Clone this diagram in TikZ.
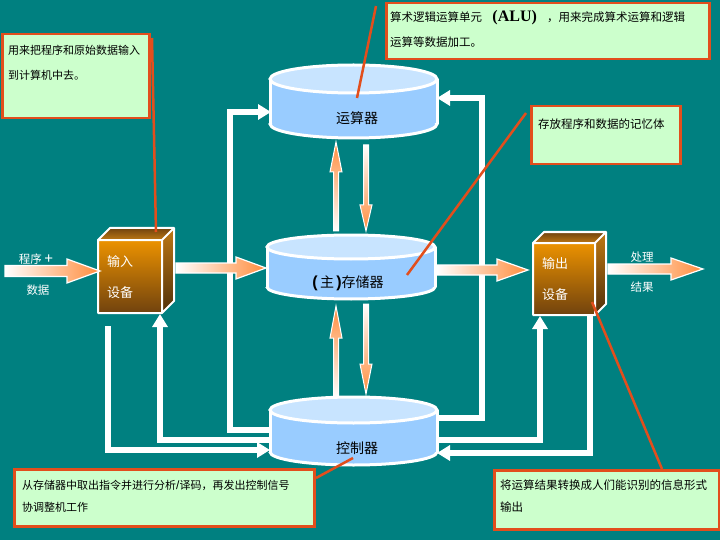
\documentclass[tikz,border=0pt]{standalone}
\usepackage{fontspec}
\setmainfont{Liberation Serif}
\newfontfamily\cjk{Noto Sans CJK SC}
\newfontfamily\lsans{Liberation Sans}
\newfontfamily\lserif{Liberation Serif}
\usetikzlibrary{arrows.meta}
\definecolor{bg}{RGB}{0,128,128}
\definecolor{cylside}{RGB}{153,204,255}
\definecolor{cyltop}{RGB}{200,228,255}
\definecolor{callfill}{RGB}{204,255,204}
\definecolor{callline}{RGB}{226,78,28}
\definecolor{arrorange}{RGB}{255,140,60}
\definecolor{cubeA}{RGB}{236,146,0}
\definecolor{cubeB}{RGB}{112,66,14}
\definecolor{cubeC}{RGB}{190,120,20}
\definecolor{cubeD}{RGB}{80,48,10}

\newcommand{\drawcyl}[6]{% name, xl, xr, yt, yb, ry
  \pgfmathsetmacro\cylcx{(#2+#3)/2}%
  \pgfmathsetmacro\cylrx{(#3-#2)/2}%
  \fill[cylside] (#2,#4) rectangle (#3,#5);
  \fill[cylside] (\cylcx,#5) ellipse[x radius=\cylrx, y radius=#6];
  \begin{scope}
    \clip (#2-5,#5) rectangle (#3+5,#5+#6+5);
    \draw[cyledge] (\cylcx,#5) ellipse[x radius=\cylrx, y radius=#6];
  \end{scope}
  \draw[cyledge] (#2,#4) -- (#2,#5) (#3,#4) -- (#3,#5);
  \filldraw[fill=cyltop, cyledge] (\cylcx,#4) ellipse[x radius=\cylrx, y radius=#6];
  \coordinate (#1) at (\cylcx,{(#4+#5)/2});
}
\newcommand{\drawcube}[6]{% name, x1, y1, x2, y2, depth
  \shade[top color=cubeB, bottom color=cubeC] (#2,#3) -- (#2+#6,#3-#6) -- (#4+#6,#3-#6) -- (#4,#3) -- cycle;
  \shade[top color=cubeC, bottom color=cubeD] (#4,#3) -- (#4+#6,#3-#6) -- (#4+#6,#5-#6) -- (#4,#5) -- cycle;
  \shade[top color=cubeA, bottom color=cubeB] (#2,#3) rectangle (#4,#5);
  \draw[cubeedge] (#2,#3) -- (#2+#6,#3-#6) -- (#4+#6,#3-#6) -- (#4+#6,#5-#6) -- (#4,#5) -- (#2,#5) -- cycle
        (#2,#3) -- (#4,#3) -- (#4+#6,#3-#6) (#4,#3) -- (#4,#5);
  \coordinate (#1) at ({(#2+#4)/2},{(#3+#5)/2});
}
\newcommand{\harrow}[6]{% x1, xh, x2, y, sw, hw
  \shadedraw[left color=white, right color=arrorange, draw=white, line width=1.2]
    (#1,#4-#5) -- (#2,#4-#5) -- (#2,#4-#6) -- (#3,#4) -- (#2,#4+#6) -- (#2,#4+#5) -- (#1,#4+#5) -- cycle;
}
\newcommand{\varrow}[7]{% shading, x, ytail, yh, ytip, sw, hw
  \shadedraw[#1, draw=white, line width=1]
    (#2-#6,#3) -- (#2-#6,#4) -- (#2-#7,#4) -- (#2,#5) -- (#2+#7,#4) -- (#2+#6,#4) -- (#2+#6,#3) -- cycle;
}

\begin{document}
\begin{tikzpicture}[x=1pt,y=-1pt,
  cyledge/.style={draw=white, line width=3},
  cubeedge/.style={draw=white, line width=2, line join=round},
  conn/.style={draw=white, line width=6},
  conntip/.style={-{Triangle[width=15pt,length=13pt]}},
  pointer/.style={draw=callline, line width=2.5},
  callbox/.style={draw=callline, fill=callfill, line width=2.5, anchor=north west, inner sep=0},
  calltext/.style={anchor=west, inner sep=0, text=black, font=\cjk\fontsize{11}{13}\selectfont},
  calltextb/.style={anchor=west, inner sep=0, text=black, font=\cjk\fontsize{11.5}{13}\selectfont},
  cyllabel/.style={inner sep=0, text=black, font=\cjk\fontsize{14}{16}\selectfont},
  cubelabel/.style={anchor=west, inner sep=0, text=white, font=\cjk\fontsize{13}{15}\selectfont},
  arrlabel/.style={inner sep=0, text=white, font=\cjk\fontsize{11.5}{14}\selectfont}
]
\fill[bg] (0,0) rectangle (720,540);
\useasboundingbox (0,0) rectangle (720,540);

% connection points
\coordinate (ctlA) at (271,430);
\coordinate (aluA) at (271,112);
\coordinate (ctlB) at (271,440);
\coordinate (inB) at (160,314);
\coordinate (inC) at (108,326);
\coordinate (ctlC) at (270,450);
\coordinate (ctlD) at (436,418);
\coordinate (aluD) at (437,98);
\coordinate (ctlE) at (436,440);
\coordinate (outE) at (540,316);
\coordinate (outF) at (590,316);
\coordinate (ctlF) at (437,453);

% white connectors
\draw[conn, conntip] (ctlA) -- (230,430) |- (aluA);
\draw[conn, conntip] (ctlB) -| (inB);
\draw[conn, conntip] (inC) |- (ctlC);
\draw[conn, conntip] (ctlD) -- (482,418) |- (aluD);
\draw[conn, conntip] (ctlE) -| (outE);
\draw[conn, conntip] (outF) |- (ctlF);

% cylinders
\drawcyl{alu}{270}{437}{79}{124}{14}
\drawcyl{mem}{267}{435}{247}{287}{12}
\drawcyl{ctl}{270}{437}{410}{452}{13}

% cubes
\drawcube{indev}{98}{240}{162}{313}{12}
\drawcube{outdev}{533}{243}{595}{315}{11}

% gradient arrows
\harrow{5}{67}{100}{271}{5.5}{12}
\harrow{176}{236}{266}{268}{5}{11}
\harrow{437}{497}{528}{270}{5}{11}
\harrow{608}{671}{703}{269}{5}{11}
\varrow{bottom color=white, top color=arrorange}{336}{231}{172}{142}{2.5}{6}
\varrow{top color=white, bottom color=arrorange}{366}{145}{205}{231}{2.5}{6}
\varrow{bottom color=white, top color=arrorange}{336}{397}{338}{306}{2.5}{6}
\varrow{top color=white, bottom color=arrorange}{366}{304}{364}{394}{2.5}{6}

% labels
\node[cyllabel] (alutxt) at (357,118) {运算器};
\node[cyllabel] (memtxt) at (348,283) {{\lsans\bfseries\fontsize{16}{16}\selectfont(}\,主\,{\lsans\bfseries\fontsize{16}{16}\selectfont)}存储器};
\node[cyllabel] (ctltxt) at (357,448) {控制器};
\node[cubelabel] (in1) at (107,262) {输入};
\node[cubelabel] (in2) at (107,293) {设备};
\node[cubelabel] (out1) at (542,264) {输出};
\node[cubelabel] (out2) at (542,295) {设备};
\node[arrlabel] (pl1) at (36,259) {程序 {\lsans\fontsize{15}{15}\selectfont +}};
\node[arrlabel] (pl2) at (38,290) {数据};
\node[arrlabel] (rl1) at (642,257) {处理};
\node[arrlabel] (rl2) at (642,287) {结果};

% pointer lines
\draw[pointer] (152,38) -- (156,232);
\draw[pointer] (376,6) -- (357,98);
\draw[pointer] (526,113) -- (407,275);
\draw[pointer] (316,478) -- (353,458);
\draw[pointer] (662,469) -- (592,302);

% callouts
\node[callbox, minimum width=147, minimum height=84] (cTL) at (1,33) {};
\node[calltext] (cTL1) at (8,50) {用来把程序和原始数据输入};
\node[calltext] (cTL2) at (8,75) {到计算机中去。};

\node[callbox, minimum width=323, minimum height=56] (cALU) at (385,2) {};
\node[calltextb] (cALU1) at (390,18) {算术逻辑运算单元\makebox[65pt]{\lserif\bfseries\fontsize{16}{16}\selectfont(ALU)}，用来完成算术运算和逻辑};
\node[calltextb] (cALU2) at (390,42) {运算等数据加工。};

\node[callbox, minimum width=149, minimum height=58] (cMid) at (530,105) {};
\node[calltextb] (cMid1) at (538,124) {存放程序和数据的记忆体};

\node[callbox, minimum width=300, minimum height=57] (cBL) at (13,468) {};
\node[calltext] (cBL1) at (22,485) {从存储器中取出指令并进行分析{\lsans\fontsize{12}{12}\selectfont /}译码，再发出控制信号};
\node[calltext] (cBL2) at (22,507) {协调整机工作};

\node[callbox, minimum width=225, minimum height=59] (cBR) at (493,469) {};
\node[calltextb] (cBR1) at (500,485) {将运算结果转换成人们能识别的信息形式};
\node[calltextb] (cBR2) at (500,507) {输出};
\end{tikzpicture}
\end{document}
